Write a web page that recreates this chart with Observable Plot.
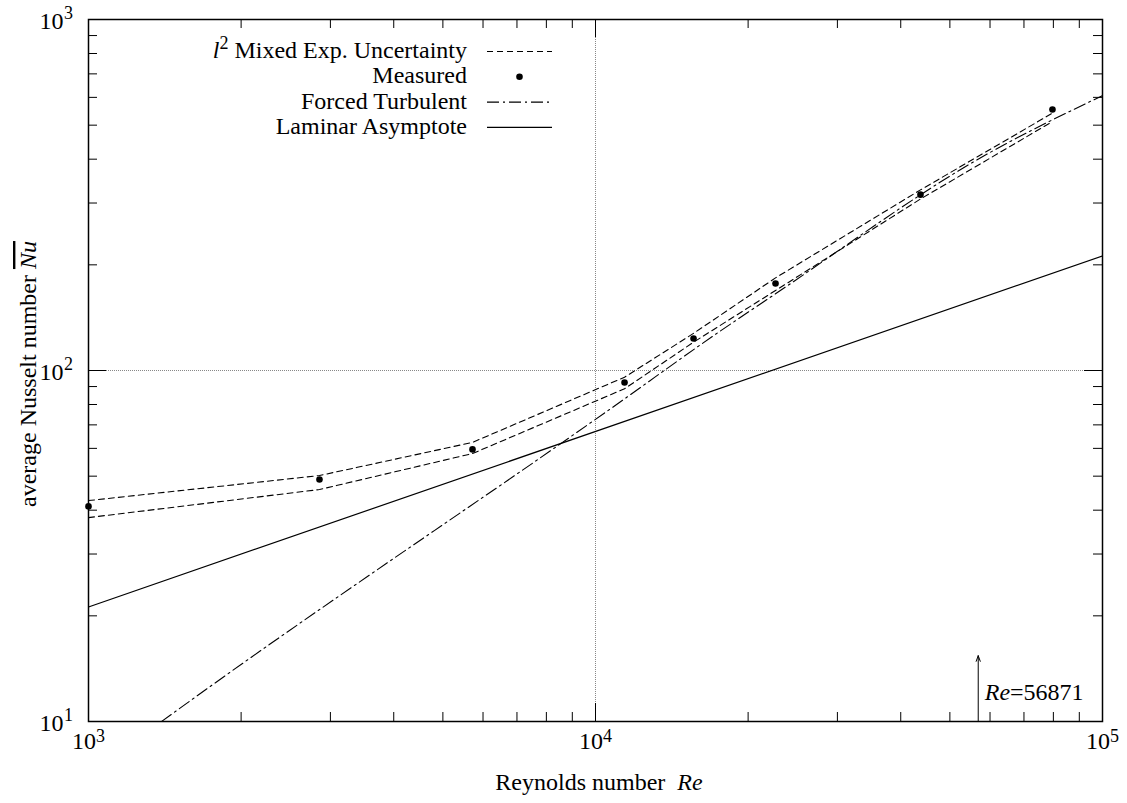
<!DOCTYPE html>
<html><head><meta charset="utf-8">
<script src="https://cdn.jsdelivr.net/npm/d3@7"></script>
<script src="https://cdn.jsdelivr.net/npm/@observablehq/plot@0.6"></script>
<style>body{margin:0;background:#fff} svg{display:block}</style>
</head><body><div id="chart"></div><script>
// ---- data ----
const reynolds   = [1000, 2855, 5720, 11410, 15610, 22650, 43750, 79670];
const nuMeasured = [41.0, 48.9, 59.6, 92.4, 123.4, 177, 317, 554];
const nuUpper    = [42.6, 50.2, 62.4, 95.7, 127.6, 183.6, 327, 541];
const nuLower    = [38.1, 45.8, 58.0, 88.7, 120.4, 169, 308, 512];

const turbRe = [1393, 1780, 5493, 6706, 10706, 17480, 22650, 59290, 100000];
const turbNu = [10, 12.9, 39.9, 48.6, 77.8, 128.5, 165.4, 414, 607];

const lamRe = [1000, 100000];
const lamNu = [21.2, 212];

const markerRe = 56871;
const markerNu = [10, 15.4];
const markerLabel = "=56871";

const xMajor = [1000, 10000, 100000];
const xMinor = [2000,3000,4000,5000,6000,7000,8000,9000,20000,30000,40000,50000,60000,70000,80000,90000];
const yMajor = [10, 100, 1000];
const yMinor = [20,30,40,50,60,70,80,90,200,300,400,500,600,700,800,900];
const xExp = ["3","4","5"];
const yExp = ["1","2","3"];

const legendLabels = ["Mixed Exp. Uncertainty", "Measured", "Forced Turbulent", "Laminar Asymptote"];
const xTitle = "Reynolds number";
const yTitle = "average Nusselt number";

// ---- layout ----
const W = 1127, H = 803, mL = 88, mR = 25, mT = 19, mB = 82;
const innerW = W - mL - mR, innerH = H - mT - mB;
const font = "'Liberation Serif', 'Times New Roman', Times, serif";
const minorLen = 9, majorLen = 18;

const pts = (xs, ys) => xs.map((x, i) => ({x, y: ys[i]}));
const measured = pts(reynolds, nuMeasured);
const upper = pts(reynolds, nuUpper);
const lower = pts(reynolds, nuLower);
const turb = pts(turbRe, turbNu);
const lam = pts(lamRe, lamNu);

const chart = Plot.plot({
  width: W, height: H,
  marginLeft: mL, marginRight: mR, marginTop: mT, marginBottom: mB,
  style: {fontFamily: font, background: "white", color: "black"},
  x: {type: "log", domain: [1e3, 1e5], axis: null},
  y: {type: "log", domain: [10, 1000], axis: null},
  marks: [
    Plot.ruleX([1e4], {stroke: "#888", strokeWidth: 1, strokeDasharray: "1,1"}),
    Plot.ruleY([100], {stroke: "#888", strokeWidth: 1, strokeDasharray: "1,1"}),
    // ticks (inward, mirrored)
    Plot.tickX(xMinor, {x: d => d, insetTop: innerH - minorLen, stroke: "black"}),
    Plot.tickX(xMinor, {x: d => d, insetBottom: innerH - minorLen, stroke: "black"}),
    Plot.tickX([1e4], {x: d => d, insetTop: innerH - majorLen, stroke: "black"}),
    Plot.tickX([1e4], {x: d => d, insetBottom: innerH - majorLen, stroke: "black"}),
    Plot.tickY(yMinor, {y: d => d, insetRight: innerW - minorLen, stroke: "black"}),
    Plot.tickY(yMinor, {y: d => d, insetLeft: innerW - minorLen, stroke: "black"}),
    Plot.tickY([100], {y: d => d, insetRight: innerW - majorLen, stroke: "black"}),
    Plot.tickY([100], {y: d => d, insetLeft: innerW - majorLen, stroke: "black"}),
    // series
    Plot.line(lam, {x: "x", y: "y", stroke: "black", strokeWidth: 1.2, clip: true}),
    Plot.line(turb, {x: "x", y: "y", stroke: "black", strokeWidth: 1.1, strokeDasharray: "12,4,2,4", curve: "monotone-x", clip: true}),
    Plot.line(upper, {x: "x", y: "y", stroke: "black", strokeWidth: 1.1, strokeDasharray: "6,4"}),
    Plot.line(lower, {x: "x", y: "y", stroke: "black", strokeWidth: 1.1, strokeDasharray: "6,4"}),
    Plot.dot(measured, {x: "x", y: "y", r: 3.3, fill: "black", stroke: null}),
    // marker arrow
    Plot.arrow([0], {x1: () => markerRe, x2: () => markerRe, y1: () => markerNu[0], y2: () => markerNu[1],
      stroke: "black", strokeWidth: 1, headLength: 9, headAngle: 40}),
    Plot.frame({stroke: "black", strokeWidth: 1.5}),
    // tick labels
    Plot.text(xMajor, {x: d => d, frameAnchor: "bottom", text: () => "10", textAnchor: "end", dx: 7.5, dy: 27.3, fontSize: 24, fill: "black"}),
    Plot.text(xMajor, {x: d => d, frameAnchor: "bottom", text: (d, i) => xExp[i], textAnchor: "start", dx: 7.5, dy: 20, fontSize: 18, fill: "black"}),
    Plot.text(yMajor, {y: d => d, frameAnchor: "left", text: () => "10", textAnchor: "end", dx: -25, dy: 2.3, fontSize: 24, fill: "black"}),
    Plot.text(yMajor, {y: d => d, frameAnchor: "left", text: (d, i) => yExp[i], textAnchor: "start", dx: -24.5, dy: -5.8, fontSize: 18, fill: "black"})
  ]
});

const svg = d3.select(chart);
const txt = (sel) => sel.append("text").style("font-family", font).style("font-size", "24px").style("fill", "black");

// marker label (Re italic)
{
  const t = txt(svg).attr("text-anchor", "start")
    .attr("x", d3.scaleLog().domain([1e3, 1e5]).range([mL, W - mR])(markerRe) + 7)
    .attr("y", H - mB - 21);
  t.append("tspan").style("font-style", "italic").text("Re");
  t.append("tspan").text(markerLabel);
}

// x title
{
  const t = txt(svg).attr("text-anchor", "middle").attr("x", mL + innerW / 2 + 4).attr("y", H - 13)
    .style("white-space", "pre");
  t.append("tspan").text(xTitle + "  ");
  t.append("tspan").style("font-style", "italic").text("Re");
}
// y title
{
  const cy = mT + innerH / 2 + 4;
  const t = txt(svg).attr("text-anchor", "middle").attr("transform", `translate(36,${cy}) rotate(-90)`)
    .style("white-space", "pre");
  t.append("tspan").text(yTitle + " ");
  t.append("tspan").style("font-style", "italic").style("text-decoration", "overline").text("Nu");
}

// legend
{
  const g = svg.append("g");
  const textRight = mL + 379, s0 = mL + 399, s1 = mL + 464;
  const rowLine = i => mT + 32.5 + i * 25.3;
  legendLabels.forEach((lab, i) => {
    const t = txt(g).attr("text-anchor", "end").attr("x", textRight).attr("y", rowLine(i) + 6.5);
    if (i === 0) {
      t.append("tspan").style("font-style", "italic").text("l");
      t.append("tspan").style("font-size", "18px").attr("dy", -9).text("2");
      t.append("tspan").attr("dy", 9).style("white-space", "pre").text(" " + lab);
    } else {
      t.text(lab);
    }
  });
  const line = (i, dash, w) => g.append("line").attr("x1", s0).attr("x2", s1)
    .attr("y1", rowLine(i)).attr("y2", rowLine(i)).attr("stroke", "black").attr("stroke-width", w)
    .attr("stroke-dasharray", dash);
  line(0, "6,4", 1.1);
  g.append("circle").attr("cx", (s0 + s1) / 2).attr("cy", rowLine(1)).attr("r", 3.3).attr("fill", "black");
  line(2, "12,4,2,4", 1.1);
  line(3, null, 1.2);
}

document.getElementById("chart").appendChild(chart);
</script></body></html>
